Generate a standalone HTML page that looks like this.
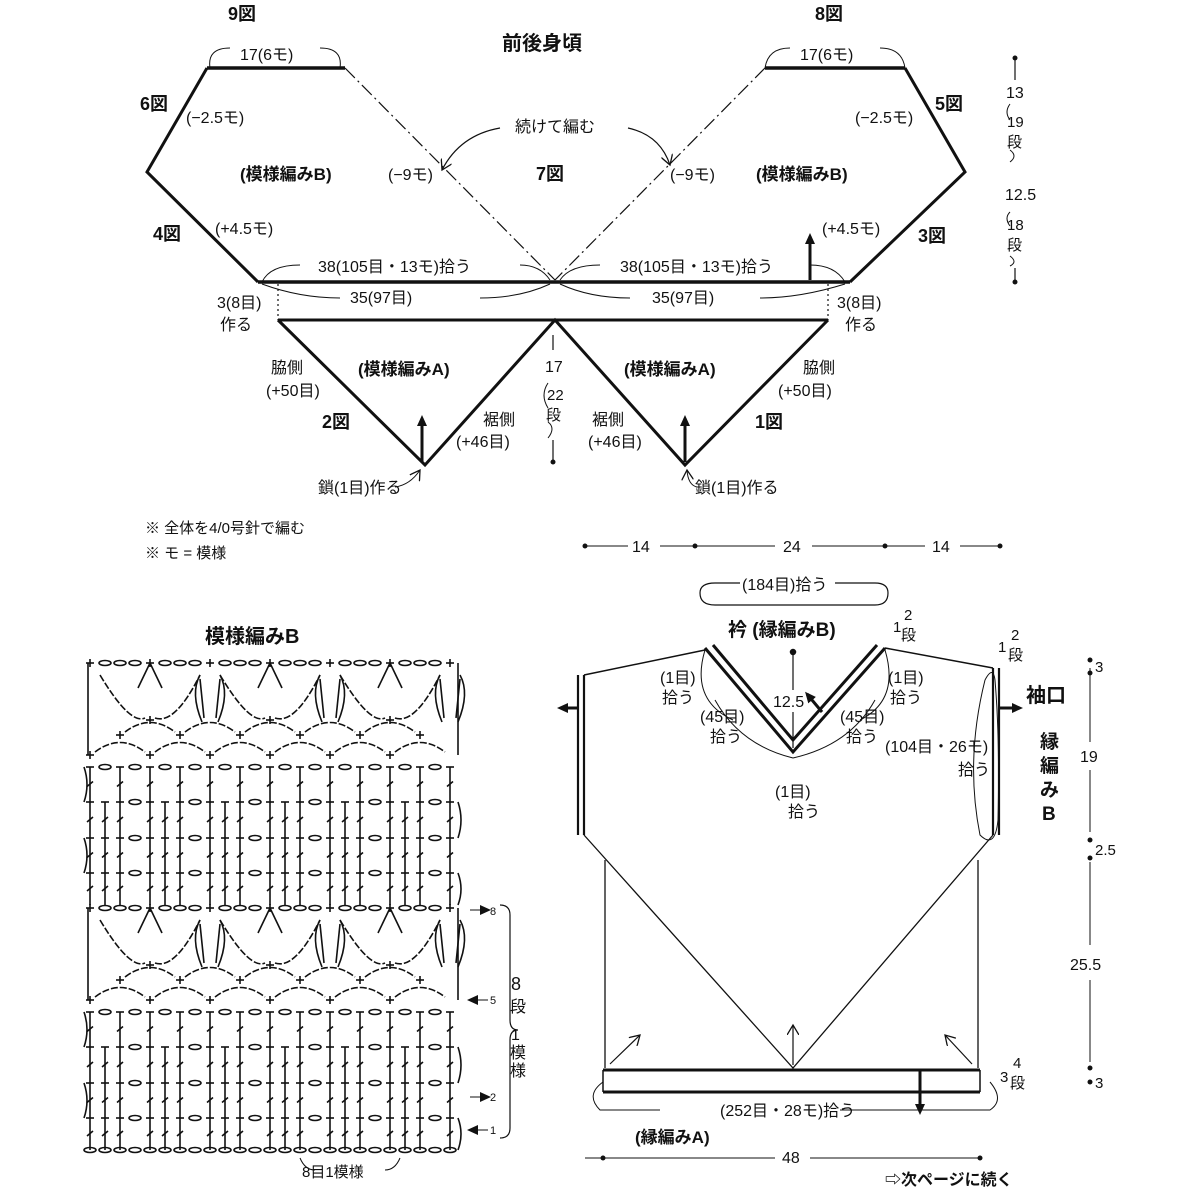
<!DOCTYPE html>
<html><head><meta charset="utf-8"><style>
html,body{margin:0;padding:0;background:#fff}
svg{display:block}
text{font-family:"Liberation Sans","Noto Sans CJK JP",sans-serif;fill:#111}
.b{font-weight:bold}
</style></head><body>
<svg id="s" width="1200" height="1200" viewBox="0 0 1200 1200" xmlns="http://www.w3.org/2000/svg">
<defs>
<marker id="ah" markerWidth="12" markerHeight="12" refX="8" refY="6" orient="auto" markerUnits="userSpaceOnUse"><path d="M0,1 L11,6 L0,11 z" fill="#111"/></marker>
<marker id="ao" markerWidth="12" markerHeight="12" refX="10" refY="6" orient="auto" markerUnits="userSpaceOnUse"><path d="M0,0 L10,6 L0,12" fill="none" stroke="#111" stroke-width="1.3"/></marker>
</defs>
<g stroke="#111" fill="none" stroke-width="1.5">
<path d="M207,68 L345,68 M765,68 L905,68" stroke-width="3.5"/>
<path d="M207,68 L147,172 L258,282 M905,68 L965,172 L850,282" stroke-width="3"/>
<path d="M345,68 L555,280 M765,68 L555,280" stroke-dasharray="14,4,2,4" stroke-width="1.2"/>
<path d="M258,282 L850,282" stroke-width="3.5"/>
<path d="M278,320 L828,320 M278,320 L425,465 L555,320 L685,465 L828,320" stroke-width="3"/>
<path d="M278,284 L278,320 M828,284 L828,320" stroke-dasharray="2,3" stroke-width="1.2"/>
<path d="M422,462 L422,418" stroke-width="3" marker-end="url(#ah)"/>
<path d="M685,462 L685,418" stroke-width="3" marker-end="url(#ah)"/>
<path d="M810,280 L810,236" stroke-width="3" marker-end="url(#ah)"/>
<path d="M395,487 Q410,485 420,470" stroke-width="1" marker-end="url(#ao)"/>
<path d="M697,487 Q688,485 687,470" stroke-width="1" marker-end="url(#ao)"/>
<path d="M210,68 Q207,48 230,48 M340,68 Q343,48 320,48 M765,68 Q768,48 790,48 M905,68 Q902,48 880,48" stroke-width="1"/>
<path d="M500,128 Q460,135 442,170" stroke-width="1.2" marker-end="url(#ao)"/>
<path d="M628,128 Q660,135 670,165" stroke-width="1.2" marker-end="url(#ao)"/>
<path d="M262,282 Q270,265 300,265 M550,280 Q540,265 520,265 M560,280 Q570,265 600,265 M845,282 Q835,265 810,265" stroke-width="1"/>
<path d="M262,284 Q300,298 340,298 M550,284 Q520,298 480,298 M560,284 Q590,298 630,298 M845,284 Q800,298 760,298" stroke-width="1"/>
<path d="M553,335 L553,350 M553,440 L553,462" stroke-width="1.2"/>
<path d="M548,383 Q540,395 548,408 M548,422 Q556,428 548,438" stroke-width="1"/>
<path d="M1015,58 L1015,80 M1015,268 L1015,282" stroke-width="1.2"/>
<path d="M1010,104 Q1004,112 1010,120 M1010,150 Q1018,156 1010,162 M1010,212 Q1004,218 1010,226 M1010,256 Q1018,262 1010,266" stroke-width="1"/>
<!-- bottom right body -->
<path d="M578,675 L578,835 M584,675 L584,835 M993,668 L993,835 M999,668 L999,835" stroke-width="2.2"/>
<path d="M584,675 L705,650 M885,648 L993,668" stroke-width="1.5"/>
<path d="M705,648 L793,752 L885,648 M713,645 L793,740 L877,645" stroke-width="3"/>
<path d="M584,835 L793,1068 L993,835 M605,860 L605,1068 M978,860 L978,1068" stroke-width="1.3"/>
<path d="M603,1070 L980,1070 M603,1092 L980,1092" stroke-width="3"/>
<path d="M603,1070 L603,1092 M980,1070 L980,1092" stroke-width="1.5"/>
<path d="M578,708 L560,708" stroke-width="3" marker-end="url(#ah)"/>
<path d="M999,708 L1020,708" stroke-width="3" marker-end="url(#ah)"/>
<path d="M920,1070 L920,1112" stroke-width="3" marker-end="url(#ah)"/>
<path d="M822,712 L807,694" stroke-width="3" marker-end="url(#ah)"/>
<path d="M793,1065 L793,1025" stroke-width="1.2" marker-end="url(#ao)"/>
<path d="M610,1064 L640,1035" stroke-width="1.2" marker-end="url(#ao)"/>
<path d="M972,1064 L945,1035" stroke-width="1.2" marker-end="url(#ao)"/>
<path d="M793,655 L793,690 M793,712 L793,748" stroke-width="1.2"/>
<circle cx="793" cy="652" r="2.5" fill="#111"/>
<path d="M700,593 Q700,583 715,583 L740,583 M835,583 L875,583 Q888,583 888,593 Q888,605 875,605 L715,605 Q700,605 700,593" stroke-width="1.2"/>
<path d="M985,680 Q965,760 980,835 Q995,850 998,820 Q1000,740 995,680 Q993,665 985,680" stroke-width="1"/>
<path d="M840,1110 L990,1110 Q1005,1100 990,1082 M660,1110 L600,1110 Q585,1095 603,1082" stroke-width="1"/>
<path d="M585,1158 L775,1158 M810,1158 L980,1158" stroke-width="1"/>
<path d="M585,546 L628,546 M660,546 L775,546 M812,546 L925,546 M960,546 L1000,546" stroke-width="1"/>
<path d="M1090,668 L1090,742 M1090,770 L1090,832 M1090,862 L1090,945 M1090,980 L1090,1062" stroke-width="1"/>
<path d="M705,650 Q690,700 733,720 M793,758 Q740,745 715,700 M793,758 Q850,745 875,700 M885,650 Q900,700 860,720" stroke-width="1"/>
<path d="M500,905 Q510,905 510,915 L510,1020 Q510,1030 518,1030 Q510,1030 510,1040 L510,1128 Q510,1138 500,1138" stroke-width="1.2"/>
<path d="M300,1158 Q305,1170 315,1170 M385,1170 Q395,1170 400,1158" stroke-width="1"/>
<path d="M470,910 L488,910" stroke-width="1" marker-end="url(#ah)"/>
<path d="M488,1000 L470,1000" stroke-width="1" marker-end="url(#ah)"/>
<path d="M470,1097 L488,1097" stroke-width="1" marker-end="url(#ah)"/>
<path d="M488,1130 L470,1130" stroke-width="1" marker-end="url(#ah)"/>
</g>
<g fill="#111">
<circle cx="585" cy="546" r="2.5"/><circle cx="695" cy="546" r="2.5"/><circle cx="885" cy="546" r="2.5"/><circle cx="1000" cy="546" r="2.5"/>
<circle cx="1015" cy="58" r="2.5"/><circle cx="1015" cy="282" r="2.5"/>
<circle cx="1090" cy="660" r="2.5"/><circle cx="1090" cy="673" r="2.5"/><circle cx="1090" cy="840" r="2.5"/><circle cx="1090" cy="858" r="2.5"/><circle cx="1090" cy="1068" r="2.5"/><circle cx="1090" cy="1082" r="2.5"/>
<circle cx="603" cy="1158" r="2.5"/><circle cx="980" cy="1158" r="2.5"/><circle cx="553" cy="462" r="2.5"/>
</g>
<g font-size="16">
<text x="228" y="20" class="b" font-size="18">9図</text>
<text x="815" y="20" class="b" font-size="18">8図</text>
<text x="502" y="50" class="b" font-size="20">前後身頃</text>
<text x="240" y="60">17(6モ)</text>
<text x="800" y="60">17(6モ)</text>
<text x="140" y="110" class="b" font-size="18">6図</text>
<text x="935" y="110" class="b" font-size="18">5図</text>
<text x="186" y="123">(−2.5モ)</text>
<text x="855" y="123">(−2.5モ)</text>
<text x="515" y="132">続けて編む</text>
<text x="240" y="180" class="b" font-size="17">(模様編みB)</text>
<text x="756" y="180" class="b" font-size="17">(模様編みB)</text>
<text x="388" y="180">(−9モ)</text>
<text x="670" y="180">(−9モ)</text>
<text x="536" y="180" class="b" font-size="18">7図</text>
<text x="153" y="240" class="b" font-size="18">4図</text>
<text x="918" y="242" class="b" font-size="18">3図</text>
<text x="215" y="234">(+4.5モ)</text>
<text x="822" y="234">(+4.5モ)</text>
<text x="318" y="272">38(105目・13モ)拾う</text>
<text x="620" y="272">38(105目・13モ)拾う</text>
<text x="350" y="303">35(97目)</text>
<text x="652" y="303">35(97目)</text>
<text x="217" y="308">3(8目)</text><text x="220" y="330">作る</text>
<text x="837" y="308">3(8目)</text><text x="845" y="330">作る</text>
<text x="358" y="375" class="b" font-size="17">(模様編みA)</text>
<text x="624" y="375" class="b" font-size="17">(模様編みA)</text>
<text x="545" y="372">17</text>
<text x="547" y="400" font-size="15">22</text>
<text x="546" y="420" font-size="15">段</text>
<text x="271" y="373">脇側</text><text x="266" y="396">(+50目)</text>
<text x="803" y="373">脇側</text><text x="778" y="396">(+50目)</text>
<text x="322" y="428" class="b" font-size="18">2図</text>
<text x="755" y="428" class="b" font-size="18">1図</text>
<text x="483" y="425">裾側</text><text x="456" y="447">(+46目)</text>
<text x="592" y="425">裾側</text><text x="588" y="447">(+46目)</text>
<text x="318" y="493">鎖(1目)作る</text>
<text x="695" y="493">鎖(1目)作る</text>
<text x="1006" y="98">13</text>
<text x="1007" y="127" font-size="15">19</text><text x="1007" y="147" font-size="15">段</text>
<text x="1005" y="200">12.5</text>
<text x="1007" y="230" font-size="15">18</text><text x="1007" y="250" font-size="15">段</text>
<text x="145" y="533" font-size="15">※ 全体を4/0号針で編む</text>
<text x="145" y="558" font-size="15">※ モ = 模様</text>
<text x="632" y="552">14</text><text x="783" y="552">24</text><text x="932" y="552">14</text>
<text x="742" y="590">(184目)拾う</text>
<text x="728" y="636" class="b" font-size="19">衿 (縁編みB)</text>
<text x="205" y="643" class="b" font-size="20">模様編みB</text>
<text x="660" y="683">(1目)</text><text x="662" y="703">拾う</text>
<text x="888" y="683">(1目)</text><text x="890" y="703">拾う</text>
<text x="700" y="722">(45目)</text><text x="710" y="742">拾う</text>
<text x="840" y="722">(45目)</text><text x="846" y="742">拾う</text>
<text x="773" y="707">12.5</text>
<text x="885" y="752">(104目・26モ)</text><text x="958" y="775">拾う</text>
<text x="775" y="797">(1目)</text><text x="788" y="817">拾う</text>
<text x="1026" y="702" class="b" font-size="20">袖口</text>
<text x="1095" y="672" font-size="15">3</text>
<text x="1080" y="762">19</text>
<text x="1095" y="855" font-size="15">2.5</text>
<text x="1070" y="970">25.5</text>
<text x="1095" y="1088" font-size="15">3</text>
<text x="893" y="632" font-size="15">1</text>
<text x="998" y="652" font-size="15">1</text>
<text x="1000" y="1082" font-size="15">3</text>
<text x="720" y="1116">(252目・28モ)拾う</text>
<text x="635" y="1143" class="b" font-size="17">(縁編みA)</text>
<text x="782" y="1163">48</text>
<text x="885" y="1185" class="b" font-size="16">⇨次ページに続く</text>
<text x="302" y="1177" font-size="15">8目1模様</text>
<text x="490" y="915" font-size="11">8</text><text x="490" y="1004" font-size="11">5</text><text x="490" y="1101" font-size="11">2</text><text x="490" y="1134" font-size="11">1</text>
</g>
<g font-size="15">
<text x="904" y="620">2</text><text x="901" y="640">段</text>
<text x="1011" y="640">2</text><text x="1008" y="660">段</text>
<text x="1013" y="1068">4</text><text x="1010" y="1088">段</text>
<text x="1040" y="748" class="b" font-size="19">縁</text><text x="1040" y="772" class="b" font-size="19">編</text><text x="1040" y="796" class="b" font-size="19">み</text><text x="1042" y="820" class="b" font-size="19">B</text>
<text x="511" y="990" font-size="18">8</text><text x="510" y="1012" font-size="16">段</text><text x="511" y="1040" font-size="16">1</text><text x="510" y="1058" font-size="16">模</text><text x="510" y="1076" font-size="16">様</text>
</g>
<g id="chart" stroke="#111" fill="none" stroke-width="1.6"></g>
</svg>
<script>
var g=document.getElementById('chart'),h='';
function L(a,b,c,d){h+='<path d="M'+a+','+b+' L'+c+','+d+'"/>';}
function O(x,y,rx,ry){h+='<ellipse cx="'+x+'" cy="'+y+'" rx="'+(rx||4.5)+'" ry="'+(ry||2)+'"/>';}
function dc(x,yt,yb){L(x,yt,x,yb);L(x-4,yt,x+4,yt);L(x-3,(yt+yb)/2+2,x+3,(yt+yb)/2-3);}
function plus(x,y){L(x-4,y,x+4,y);L(x,y-4,x,y+4);}
function rep(off){
 var X0=90,S=15;
 var rows=[[1118,1150],[1083,1118],[1047,1083],[1012,1047]];
 for(var r=0;r<4;r++){
  var yt=rows[r][0]-off,yb=rows[r][1]-off;
  for(var i=0;i<25;i++){var x=X0+i*S;
   if(r<3 && (i%4==3)) {O(x,yt,6,2.5);} else if(r==3 && i%2==1){O(x,yt,6,2.5);} else dc(x,yt,yb);}
  var ex=(r%2==0)?458:84; h+='<path d="M'+ex+','+yb+' q6,'+(-(yb-yt)/2)+' 0,'+(-(yb-yt))+'"/>';
 }
 if(off==0){for(var i=0;i<25;i++)O(X0+i*S,1150,6,2.5);}
 [1000,980].forEach(function(y,k){y-=off;
  for(var i=0;i<6;i++){var x=X0+(k?30:0)+i*60;plus(x,y);
   if(x+60<=462)h+='<path d="M'+(x+5)+','+(y-3)+' Q'+(x+30)+','+(y-22)+' '+(x+55)+','+(y-3)+'" stroke-dasharray="7,2"/>';}
 });
 var y7=965-off,y8=908-off;
 for(var i=0;i<3;i++){var x=X0+i*120;
  plus(x+60,y7);
  h+='<path d="M'+(x+10)+','+(y8+12)+' Q'+(x+40)+','+(y7+5)+' '+(x+55)+','+(y7-2)+'" stroke-dasharray="7,2"/>';
  h+='<path d="M'+(x+65)+','+(y7-2)+' Q'+(x+85)+','+(y7+5)+' '+(x+110)+','+(y8+12)+'" stroke-dasharray="7,2"/>';
  L(x+120-6,y7-2,x+110,y8+16);L(x+120+6,y7-2,x+130,y8+16);
  h+='<path d="M'+(x+112)+','+(y7+2)+' Q'+(x+100)+','+(y8+30)+' '+(x+110)+','+(y8+12)+'"/>';
  h+='<path d="M'+(x+128)+','+(y7+2)+' Q'+(x+140)+','+(y8+30)+' '+(x+130)+','+(y8+12)+'"/>';
  L(x+60,y8,x+48,y8+25);L(x+60,y8,x+72,y8+25);
 }
 for(var i=0;i<25;i++){var x=X0+i*S;if(i%4==0)plus(x,y8);else O(x,y8,6,2.5);}
 L(88,y8,88,1000-off);L(458,y8,458,1000-off);
}
rep(0);rep(245);
g.innerHTML=h;
</script>
</body></html>
